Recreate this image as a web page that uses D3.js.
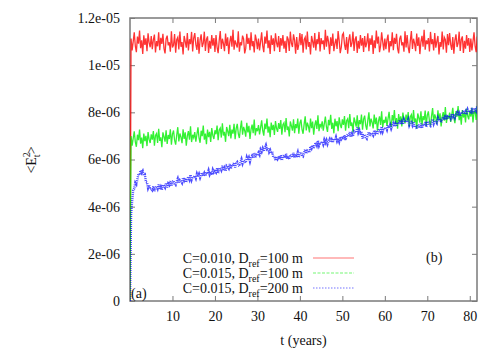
<!DOCTYPE html>
<html>
<head>
<meta charset="utf-8">
<script src="https://cdn.jsdelivr.net/npm/d3@7"></script>
<style>
  body { margin: 0; background: #fff; }
  svg text { font-family: 'Liberation Serif', 'DejaVu Serif', serif; }
</style>
</head>
<body>
<div id="chart"></div>
<script>
// Mean squared error vs time, values in units of 1e-6, one sample every 0.25 year
const sampleStep = 0.25;
const xTicks = [10, 20, 30, 40, 50, 60, 70, 80];
const yTicks = [0, 2e-6, 4e-6, 6e-6, 8e-6, 1e-5, 1.2e-5];
const yTickLabels = ['0', '2e-06', '4e-06', '6e-06', '8e-06', '1e-05', '1.2e-05'];
const seriesNames = ['C=0.010, D|ref|=100 m', 'C=0.015, D|ref|=100 m', 'C=0.015, D|ref|=200 m'];

const redVals = [0,
  11.13, 10.62, 11.00, 11.39, 10.82, 10.55, 11.21, 10.91, 11.47, 10.72, 11.05, 10.48, 11.27, 10.86, 11.14, 10.59, 11.35, 10.96, 10.76, 11.23,
  10.68, 11.07, 11.30, 10.54, 11.02, 10.80, 11.39, 10.63, 11.16, 10.90, 11.33, 10.71, 10.50, 11.11, 11.25, 10.84, 10.97, 10.57, 11.44, 10.75,
  10.85, 11.32, 10.53, 11.08, 11.18, 10.67, 11.43, 10.78, 10.98, 10.45, 11.24, 11.01, 10.74, 11.36, 10.62, 11.10, 10.89, 11.41, 10.58, 11.15,
  11.36, 10.88, 10.65, 11.19, 10.49, 11.06, 11.31, 10.77, 10.93, 11.42, 10.60, 11.09, 11.22, 10.52, 11.03, 10.70, 11.28, 10.83, 11.15, 10.56,
  11.28, 10.76, 10.51, 11.04, 11.45, 10.69, 11.12, 10.92, 10.59, 11.34, 10.82, 11.18, 10.47, 10.99, 11.24, 10.78, 11.50, 10.66, 11.05, 10.89,
  10.75, 11.44, 10.57, 10.97, 10.84, 11.25, 11.11, 10.50, 10.71, 11.33, 10.90, 11.16, 10.63, 11.39, 10.80, 11.02, 10.54, 11.30, 11.07, 10.68,
  11.13, 10.62, 11.00, 11.39, 10.82, 10.55, 11.21, 10.91, 11.47, 10.72, 11.05, 10.48, 11.27, 10.86, 11.14, 10.59, 11.35, 10.96, 10.76, 11.23,
  10.56, 11.15, 10.83, 11.28, 10.70, 11.03, 10.52, 11.22, 11.09, 10.60, 11.42, 10.93, 10.77, 11.31, 11.06, 10.49, 11.19, 10.65, 10.88, 11.36,
  10.85, 11.32, 10.53, 11.08, 11.18, 10.67, 11.43, 10.78, 10.98, 10.45, 11.24, 11.01, 10.74, 11.36, 10.62, 11.10, 10.89, 11.41, 10.58, 11.15,
  10.89, 11.05, 10.66, 11.50, 10.78, 11.24, 10.99, 10.47, 11.18, 10.82, 11.34, 10.59, 10.92, 11.12, 10.69, 11.45, 11.04, 10.51, 10.76, 11.28,
  11.36, 10.88, 10.65, 11.19, 10.49, 11.06, 11.31, 10.77, 10.93, 11.42, 10.60, 11.09, 11.22, 10.52, 11.03, 10.70, 11.28, 10.83, 11.15, 10.56,
  11.23, 10.76, 10.96, 11.35, 10.59, 11.14, 10.86, 11.27, 10.48, 11.05, 10.72, 11.47, 10.91, 11.21, 10.55, 10.82, 11.39, 11.00, 10.62, 11.13,
  10.68, 11.07, 11.30, 10.54, 11.02, 10.80, 11.39, 10.63, 11.16, 10.90, 11.33, 10.71, 10.50, 11.11, 11.25, 10.84, 10.97, 10.57, 11.44, 10.75,
  11.28, 10.76, 10.51, 11.04, 11.45, 10.69, 11.12, 10.92, 10.59, 11.34, 10.82, 11.18, 10.47, 10.99, 11.24, 10.78, 11.50, 10.66, 11.05, 10.89,
  11.15, 10.58, 11.41, 10.89, 11.10, 10.62, 11.36, 10.74, 11.01, 11.24, 10.45, 10.98, 10.78, 11.43, 10.67, 11.18, 11.08, 10.53, 11.32, 10.85,
  11.36, 10.88, 10.65, 11.19, 10.49, 11.06, 11.31, 10.77, 10.93, 11.42, 10.60, 11.09, 11.22, 10.52, 11.03, 10.70, 11.28, 10.83, 11.15, 10.56,
  11.13, 10.62, 11.00, 11.39, 10.82, 10.55, 11.21, 10.91, 11.47, 10.72];

const greenVals = [0,
  6.99, 6.59, 6.89, 7.19, 6.75, 6.54, 7.05, 6.82, 7.27, 6.67, 6.93, 6.48, 7.10, 6.78, 7.00, 6.57, 7.16, 6.85, 6.70, 7.07,
  6.84, 7.21, 6.59, 7.02, 7.10, 6.70, 7.30, 6.79, 6.94, 6.52, 7.15, 6.97, 6.76, 7.24, 6.66, 7.04, 6.87, 7.28, 6.63, 7.08,
  7.23, 6.82, 6.63, 7.04, 7.37, 6.77, 7.10, 6.95, 6.69, 7.28, 6.87, 7.15, 6.59, 7.00, 7.20, 6.84, 7.41, 6.74, 7.05, 6.92,
  7.16, 6.76, 7.06, 7.36, 6.92, 6.71, 7.22, 6.99, 7.44, 6.84, 7.10, 6.65, 7.27, 6.95, 7.17, 6.74, 7.33, 7.02, 6.87, 7.24,
  7.07, 7.44, 6.82, 7.25, 7.33, 6.93, 7.53, 7.02, 7.17, 6.75, 7.38, 7.20, 6.99, 7.47, 6.89, 7.27, 7.10, 7.51, 6.86, 7.31,
  7.51, 7.10, 6.91, 7.32, 7.65, 7.05, 7.38, 7.23, 6.97, 7.56, 7.15, 7.43, 6.87, 7.28, 7.48, 7.12, 7.69, 7.02, 7.33, 7.20,
  7.46, 7.06, 7.36, 7.66, 7.22, 7.01, 7.52, 7.29, 7.74, 7.14, 7.40, 6.95, 7.57, 7.25, 7.47, 7.04, 7.63, 7.32, 7.17, 7.54,
  7.30, 7.67, 7.05, 7.48, 7.56, 7.16, 7.76, 7.25, 7.40, 6.98, 7.61, 7.43, 7.22, 7.70, 7.12, 7.50, 7.33, 7.74, 7.09, 7.54,
  7.69, 7.28, 7.09, 7.50, 7.83, 7.23, 7.56, 7.41, 7.15, 7.74, 7.33, 7.61, 7.05, 7.46, 7.66, 7.30, 7.87, 7.20, 7.51, 7.38,
  7.62, 7.22, 7.52, 7.82, 7.38, 7.17, 7.68, 7.45, 7.90, 7.30, 7.56, 7.11, 7.73, 7.41, 7.63, 7.20, 7.79, 7.48, 7.33, 7.70,
  7.47, 7.84, 7.22, 7.65, 7.73, 7.33, 7.93, 7.42, 7.57, 7.15, 7.78, 7.60, 7.39, 7.87, 7.29, 7.67, 7.50, 7.91, 7.26, 7.71,
  7.86, 7.45, 7.26, 7.67, 8.00, 7.40, 7.73, 7.58, 7.32, 7.91, 7.50, 7.78, 7.22, 7.63, 7.83, 7.47, 8.04, 7.37, 7.68, 7.55,
  7.82, 7.42, 7.72, 8.02, 7.58, 7.37, 7.88, 7.65, 8.10, 7.50, 7.76, 7.31, 7.93, 7.61, 7.83, 7.40, 7.99, 7.68, 7.53, 7.90,
  7.64, 8.01, 7.39, 7.82, 7.90, 7.50, 8.10, 7.59, 7.74, 7.32, 7.95, 7.77, 7.56, 8.04, 7.46, 7.84, 7.67, 8.08, 7.43, 7.88,
  8.04, 7.63, 7.44, 7.85, 8.18, 7.58, 7.91, 7.76, 7.50, 8.09, 7.68, 7.96, 7.40, 7.81, 8.01, 7.65, 8.22, 7.55, 7.86, 7.73,
  7.99, 7.59, 7.89, 8.19, 7.75, 7.54, 8.05, 7.82, 8.27, 7.67, 7.93, 7.48, 8.10, 7.78, 8.00, 7.57, 8.16, 7.85, 7.70, 8.07,
  7.82, 8.19, 7.57, 8.00, 8.08, 7.68, 8.28, 7.77, 7.92, 7.50];

const blueVals = [0,
  3.65, 4.22, 4.70, 4.77, 5.02, 4.95, 5.17, 5.39, 5.34, 5.54, 5.43, 5.51, 5.33, 5.36, 5.05, 5.03, 4.79, 4.91, 4.74, 4.76,
  4.70, 4.87, 4.66, 4.81, 4.87, 4.76, 4.94, 4.73, 4.84, 4.71, 4.93, 4.89, 4.81, 5.01, 4.81, 4.98, 4.92, 5.08, 4.87, 5.06,
  5.10, 4.97, 4.92, 5.07, 5.19, 5.00, 5.13, 5.09, 5.01, 5.23, 5.11, 5.21, 5.03, 5.18, 5.27, 5.15, 5.35, 5.14, 5.27, 5.23,
  5.31, 5.20, 5.39, 5.27, 5.38, 5.23, 5.36, 5.44, 5.30, 5.42, 5.30, 5.46, 5.39, 5.54, 5.37, 5.48, 5.35, 5.56, 5.45, 5.51,
  5.45, 5.63, 5.42, 5.59, 5.65, 5.55, 5.73, 5.53, 5.64, 5.51, 5.73, 5.69, 5.62, 5.81, 5.61, 5.78, 5.72, 5.87, 5.66, 5.84,
  5.89, 5.77, 5.72, 5.88, 6.01, 5.83, 5.96, 5.93, 5.86, 6.09, 5.97, 6.08, 5.91, 6.07, 6.16, 6.06, 6.27, 6.07, 6.20, 6.18,
  6.29, 6.20, 6.42, 6.33, 6.47, 6.34, 6.50, 6.61, 6.44, 6.49, 6.31, 6.40, 6.26, 6.33, 6.09, 6.13, 5.96, 6.13, 6.01, 6.07,
  6.01, 6.18, 5.96, 6.12, 6.18, 6.07, 6.24, 6.03, 6.14, 6.01, 6.21, 6.17, 6.09, 6.28, 6.07, 6.23, 6.17, 6.31, 6.09, 6.26,
  6.31, 6.19, 6.14, 6.30, 6.43, 6.25, 6.38, 6.35, 6.30, 6.56, 6.47, 6.61, 6.46, 6.63, 6.72, 6.60, 6.80, 6.59, 6.71, 6.68,
  6.76, 6.64, 6.83, 6.71, 6.82, 6.66, 6.79, 6.87, 6.73, 6.84, 6.72, 6.88, 6.81, 6.95, 6.78, 6.89, 6.76, 6.96, 6.85, 6.91,
  6.86, 7.03, 6.83, 7.00, 7.07, 6.97, 7.16, 6.96, 7.09, 6.98, 7.21, 7.19, 7.14, 7.36, 7.14, 7.25, 7.12, 7.18, 6.89, 7.03,
  7.06, 6.93, 6.88, 7.04, 7.17, 6.99, 7.12, 7.09, 7.02, 7.24, 7.12, 7.23, 7.06, 7.22, 7.30, 7.19, 7.40, 7.19, 7.32, 7.28,
  7.37, 7.26, 7.45, 7.34, 7.46, 7.31, 7.44, 7.53, 7.40, 7.52, 7.40, 7.57, 7.51, 7.66, 7.49, 7.61, 7.49, 7.70, 7.59, 7.66,
  7.57, 7.70, 7.46, 7.58, 7.60, 7.46, 7.60, 7.36, 7.44, 7.29, 7.48, 7.42, 7.34, 7.53, 7.33, 7.50, 7.44, 7.59, 7.38, 7.56,
  7.61, 7.48, 7.43, 7.58, 7.71, 7.52, 7.65, 7.61, 7.54, 7.76, 7.64, 7.74, 7.57, 7.72, 7.81, 7.69, 7.90, 7.69, 7.82, 7.78,
  7.86, 7.75, 7.94, 7.82, 7.93, 7.78, 7.91, 7.99, 7.85, 7.97, 7.85, 8.01, 7.94, 8.09, 7.92, 8.03, 7.90, 8.11, 8.00, 8.06,
  8.01, 8.18, 7.96, 8.12, 8.18, 8.07, 8.26, 8.04, 8.15, 8.02];

const seriesColors = ['#ff0000', '#00ee00', '#0000ff'];

const W = 500, H = 350;
const m = { top: 18, right: 23, bottom: 49, left: 130 };
const w = W - m.left - m.right, h = H - m.top - m.bottom;

const svg = d3.select('#chart').append('svg').attr('width', W).attr('height', H);
const g = svg.append('g').attr('transform', `translate(${m.left},${m.top})`);

const x = d3.scaleLinear().domain([0, 81.7]).range([0, w]);
const y = d3.scaleLinear().domain([0, 1.2e-5]).range([h, 0]);

svg.append('defs').append('clipPath').attr('id', 'clip')
  .append('rect').attr('width', w).attr('height', h);

const borderCol = '#7a7a7a';
const styleAxis = sel => {
  sel.attr('font-family', null).attr('font-size', null);
  sel.select('.domain').remove();
  sel.selectAll('.tick line').attr('stroke', borderCol).attr('stroke-width', 1);
  sel.selectAll('text').attr('fill', '#111').style('font-size', '14px');
};

// bottom + left axes with labels, ticks pointing inwards
g.append('g').attr('transform', `translate(0,${h})`)
  .call(d3.axisBottom(x).tickValues(xTicks).tickSizeInner(-5).tickSizeOuter(0).tickPadding(10))
  .call(styleAxis);
g.append('g')
  .call(d3.axisLeft(y).tickValues(yTicks).tickFormat((d, i) => yTickLabels[i])
    .tickSizeInner(-5).tickSizeOuter(0).tickPadding(10))
  .call(styleAxis);
// mirrored ticks
g.append('g')
  .call(d3.axisTop(x).tickValues(xTicks).tickSizeInner(-5).tickSizeOuter(0).tickFormat(''))
  .call(styleAxis);
g.append('g').attr('transform', `translate(${w},0)`)
  .call(d3.axisRight(y).tickValues(yTicks).tickSizeInner(-5).tickSizeOuter(0).tickFormat(''))
  .call(styleAxis);

g.append('rect').attr('width', w).attr('height', h)
  .attr('fill', 'none').attr('stroke', borderCol).attr('stroke-width', 1.5);

// curves
const line = d3.line()
  .x((d, i) => x(i * sampleStep))
  .y(d => y(d * 1e-6));

const plot = g.append('g').attr('clip-path', 'url(#clip)');
[redVals, greenVals, blueVals].forEach((vals, k) => {
  plot.append('path').datum(vals)
    .attr('d', line)
    .attr('fill', 'none')
    .attr('stroke', seriesColors[k])
    .attr('stroke-width', k === 2 ? 2.4 : 1.3)
    .attr('stroke-opacity', k === 2 ? 0.7 : 0.8)
    .attr('stroke-dasharray', k === 2 ? '1,1' : null);
});

// legend
const legX = 303 - m.left, legY0 = 258 - m.top, legDy = 15;
const dashes = [null, '3,1.5', '1.5,1.5'];
seriesNames.forEach((name, k) => {
  const [a, sub, b] = name.split('|');
  const t = g.append('text').attr('x', legX).attr('y', legY0 + k * legDy)
    .attr('text-anchor', 'end').attr('dy', '0.35em')
    .style('font-size', '14px').attr('fill', '#111');
  t.append('tspan').text(a);
  t.append('tspan').attr('dy', 4).style('font-size', '10px').text(sub);
  t.append('tspan').attr('dy', -4).text(b);
  g.append('line')
    .attr('x1', 313 - m.left).attr('x2', 354 - m.left)
    .attr('y1', legY0 + k * legDy).attr('y2', legY0 + k * legDy)
    .attr('stroke', seriesColors[k]).attr('stroke-opacity', 0.55)
    .attr('stroke-width', 1).attr('stroke-dasharray', dashes[k]);
});

g.append('text').attr('x', 1).attr('y', h - 3)
  .style('font-size', '14px').attr('fill', '#111').text('(a)');
g.append('text').attr('x', 426 - m.left).attr('y', 262 - m.top)
  .style('font-size', '14px').attr('fill', '#111').text('(b)');

// axis titles
svg.append('text').attr('x', m.left + w / 2).attr('y', 345)
  .attr('text-anchor', 'middle').style('font-size', '14px').attr('fill', '#111')
  .text('t (years)');

const yl = svg.append('text')
  .attr('transform', 'translate(36,160) rotate(-90)')
  .attr('text-anchor', 'middle').style('font-size', '14px').attr('fill', '#111');
yl.append('tspan').text('<E');
yl.append('tspan').attr('dy', -6).style('font-size', '10px').text('2');
yl.append('tspan').attr('dx', -5).attr('dy', 10).style('font-size', '10px').text('t');
yl.append('tspan').attr('dy', -4).text('>');
</script>
</body>
</html>
